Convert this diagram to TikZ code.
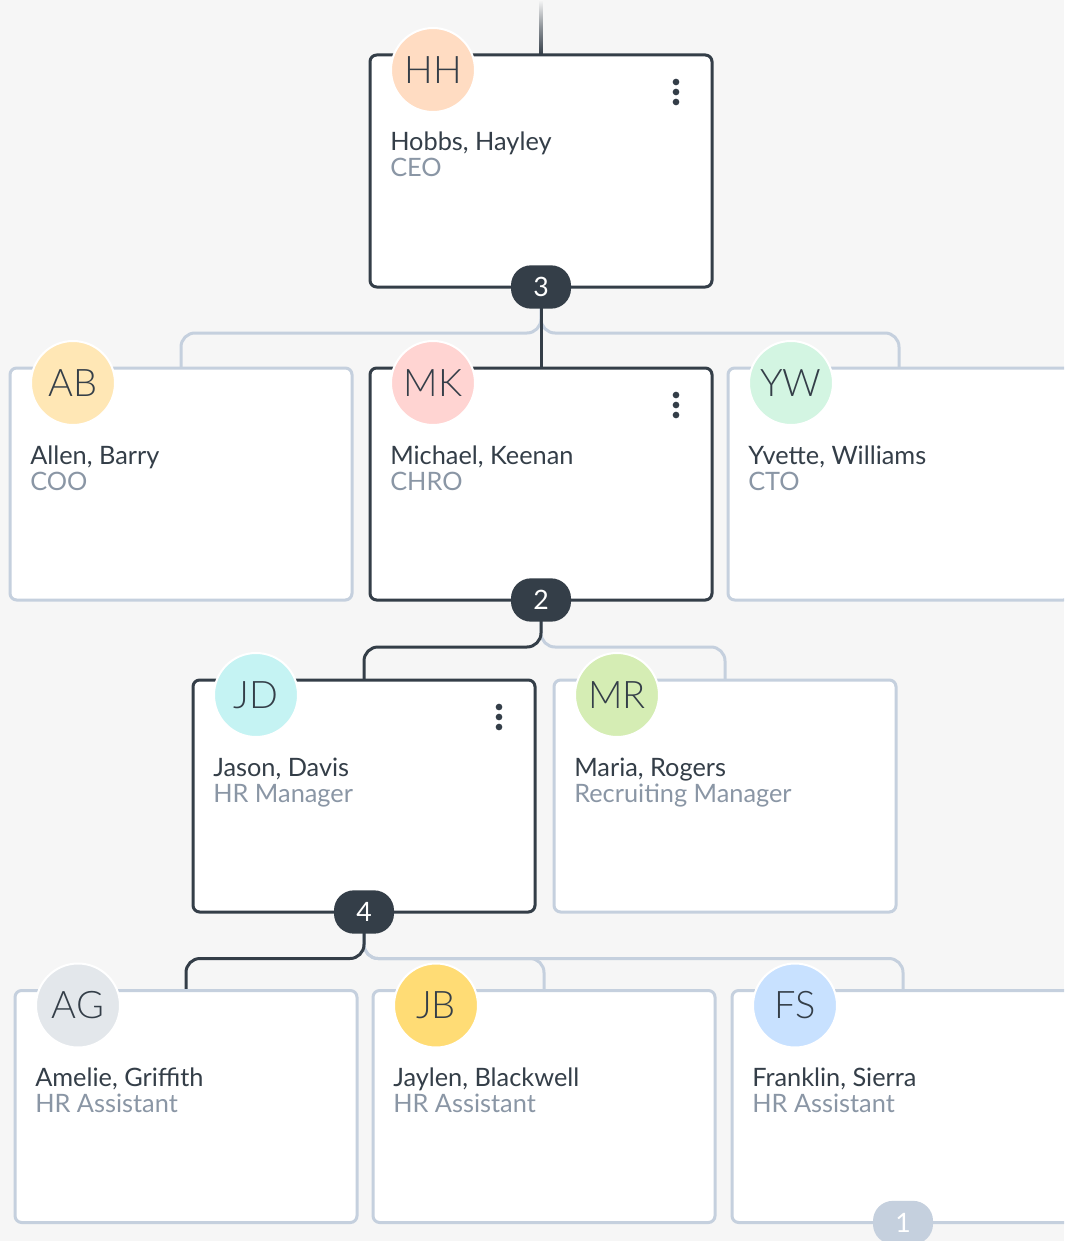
\documentclass[tikz,border=0pt]{standalone}
\usepackage{fontspec}
\setmainfont{Lato}
\newfontfamily\lightfont{Lato Light}
\usetikzlibrary{calc}
\definecolor{bgc}{HTML}{F6F6F6}
\definecolor{ink}{HTML}{343E48}
\definecolor{edge}{HTML}{C5D0DE}
\definecolor{sub}{HTML}{8A96A5}
\definecolor{cHH}{HTML}{FFDCC2}
\definecolor{cAB}{HTML}{FFE7B5}
\definecolor{cMK}{HTML}{FFD4D2}
\definecolor{cYW}{HTML}{D3F5E2}
\definecolor{cJD}{HTML}{C5F3F3}
\definecolor{cMR}{HTML}{D5EDB4}
\definecolor{cAG}{HTML}{E3E7EB}
\definecolor{cJB}{HTML}{FFDC75}
\definecolor{cFS}{HTML}{C8E1FF}
\pgfdeclarelayer{bglayer}
\pgfdeclarelayer{connlayer}
\pgfsetlayers{bglayer,connlayer,main}
\tikzset{
  card/.style={rectangle, fill=white, line width=2.25pt, rounded corners=5pt,
    minimum width=256.5pt, minimum height=174pt, outer sep=0pt, inner sep=0pt},
  darkcard/.style={card, draw=ink},
  lightcard/.style={card, draw=edge},
  avatar/.style={circle, draw=white, line width=1.5pt, minimum size=63pt, inner sep=0pt,
    font=\lightfont\fontsize{28.5}{28.5}\selectfont, text=ink},
  nametext/.style={anchor=base west, inner sep=0pt, font=\fontsize{19}{19}\selectfont, text=ink},
  titletext/.style={anchor=base west, inner sep=0pt, font=\fontsize{19}{19}\selectfont, text=sub},
  badge/.style={rectangle, rounded corners=15pt, minimum width=45pt, minimum height=32.5pt,
    inner sep=0pt, fill=ink, text=white, font=\fontsize{20}{20}\selectfont},
  softbadge/.style={badge, fill=edge},
  menudot/.style={circle, fill=ink, minimum size=5pt, inner sep=0pt},
  darkline/.style={draw=ink, line width=2.25pt, rounded corners=10.5pt},
  lightline/.style={draw=edge, line width=2.25pt, rounded corners=10.5pt},
}
\newcommand\person[8]{%
  \node[#4] (#1) at (#2,#3) {};
  \node[avatar, fill=#6] (#1av) at ($(#1.north west)+(63,15)$) {#5};
  \node[nametext] (#1nm) at ($(#1.north west)+(20,96)$) {#7};
  \node[titletext] (#1tt) at ($(#1.north west)+(20,122)$) {#8};
}
\newcommand\menudots[1]{%
  \node[menudot] (#1da) at ($(#1.north east)+(-36,27)$) {};
  \node[menudot] (#1db) at ($(#1.north east)+(-36,37)$) {};
  \node[menudot] (#1dc) at ($(#1.north east)+(-36,47)$) {};
}
\begin{document}
\begin{tikzpicture}[x=0.75pt,y=-0.75pt]
\useasboundingbox (0,0) rectangle (1064,1241);
\clip (0,0) rectangle (1064,1241);
\begin{pgfonlayer}{bglayer}
  \fill[bgc] (0,0) rectangle (1064,1241);
\end{pgfonlayer}

\person{HH}{541}{171}{darkcard}{HH}{cHH}{Hobbs, Hayley}{CEO}
\person{AB}{181}{484}{lightcard}{AB}{cAB}{Allen, Barry}{COO}
\person{MK}{541}{484}{darkcard}{MK}{cMK}{Michael, Keenan}{CHRO}
\person{YW}{899}{484}{lightcard}{YW}{cYW}{Yvette, Williams}{CTO}
\person{JD}{364}{796}{darkcard}{JD}{cJD}{Jason, Davis}{HR Manager}
\person{MR}{725}{796}{lightcard}{MR}{cMR}{Maria, Rogers}{Recruiting Manager}
\person{AG}{186}{1106.5}{lightcard}{AG}{cAG}{Amelie, Griffith}{HR Assistant}
\person{JB}{544}{1106.5}{lightcard}{JB}{cJB}{Jaylen, Blackwell}{HR Assistant}
\person{FS}{903}{1106.5}{lightcard}{FS}{cFS}{Franklin, Sierra}{HR Assistant}

\menudots{HH}
\menudots{MK}
\menudots{JD}

\node[badge] (b3) at (HH.south) {3};
\node[badge] (b2) at (MK.south) {2};
\node[badge] (b4) at (JD.south) {4};
\node[softbadge] (b1) at (FS.south) {1};

\coordinate (topend) at ($(HH.north)+(0,-55)$);
\begin{pgfonlayer}{connlayer}
  \shade[top color=bgc, bottom color=ink, middle color=ink!55!bgc]
    ($(topend)+(-1.5,0)$) rectangle ($(HH.north)+(1.5,0)$);
  % level 1
  \draw[lightline] (b3.center) |- ($(AB.north)+(0,-35)$) -- (AB.north);
  \draw[lightline] (b3.center) |- ($(YW.north)+(0,-35)$) -- (YW.north);
  \draw[darkline] (b3.center) -- (MK.north);
  % level 2
  \draw[lightline] (b2.center) |- ($(MR.north)+(0,-33)$) -- (MR.north);
  \draw[darkline] (b2.center) |- ($(JD.north)+(0,-33)$) -- (JD.north);
  % level 3
  \draw[lightline] (b4.center) |- ($(JB.north)+(0,-32)$) -- (JB.north);
  \draw[lightline] (b4.center) |- ($(FS.north)+(0,-32)$) -- (FS.north);
  \draw[darkline] (b4.center) |- ($(AG.north)+(0,-32)$) -- (AG.north);
\end{pgfonlayer}
\end{tikzpicture}
\end{document}
